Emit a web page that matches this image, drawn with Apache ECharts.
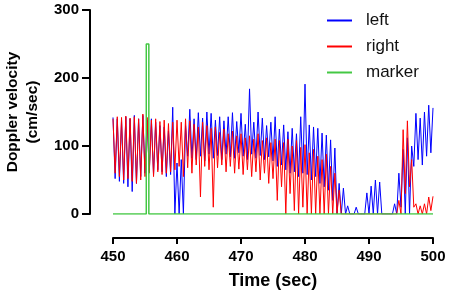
<!DOCTYPE html>
<html>
<head>
<meta charset="utf-8">
<script src="https://cdn.jsdelivr.net/npm/echarts@6/dist/echarts.min.js"></script>
<style>
  html, body { margin: 0; padding: 0; background: #fff; }
  #chart { width: 450px; height: 295px; }
</style>
</head>
<body>
<div id="chart"></div>
<script>
// sampled every 1/3 sec starting at 450 sec
const sampleStart = 450;
const sampleStep = 1 / 3;

// left (cm/sec)
const leftValues = [
  142, 52, 140, 48, 138, 45, 143, 40, 140, 33, 145, 45, 140, 55, 145, 60,
  138, 62, 140, 58, 135, 65, 130, 62, 128, 55, 122, 58, 157, 0, 75, 0,
  80, 0, 130, 85, 154, 82, 140, 80, 149, 85, 141, 78, 150, 88, 148, 82,
  138, 86, 143, 80, 137, 88, 143, 84, 149, 82, 136, 90, 148, 85, 132, 80,
  184, 88, 135, 82, 150, 86, 141, 80, 130, 84, 135, 78, 143, 70, 125, 72,
  131, 65, 121, 60, 126, 62, 118, 55, 143, 60, 191, 58, 131, 50, 128, 55,
  126, 45, 119, 40, 116, 35, 109, 20, 97, 0, 45, 0, 38, 0, 12, 0,
  0, 0, 10, 0, 0, 0, 0, 31, 0, 41, 0, 50, 0, 47, 0, 0,
  0, 0, 0, 0, 15, 0, 60, 10, 95, 0, 112, 0, 100, 70, 148, 80,
  141, 72, 150, 85, 160, 90, 156
];

// right (cm/sec)
const rightValues = [
  140, 60, 143, 55, 142, 50, 144, 52, 141, 48, 143, 45, 140, 50, 147, 55,
  142, 60, 138, 55, 140, 62, 136, 58, 138, 60, 133, 62, 135, 65, 138, 70,
  135, 55, 140, 68, 137, 60, 132, 72, 128, 25, 135, 70, 130, 65, 126, 10,
  128, 68, 120, 72, 125, 62, 118, 70, 122, 60, 115, 66, 118, 58, 112, 65,
  115, 55, 110, 62, 118, 50, 108, 60, 112, 45, 105, 52, 110, 20, 108, 40,
  105, 0, 110, 30, 100, 5, 108, 0, 98, 10, 102, 0, 90, 0, 95, 0,
  85, 0, 80, 0, 88, 0, 70, 0, 60, 0, 35, 0, 0, 0, 0, 0,
  0, 0, 0, 0, 0, 0, 0, 0, 0, 0, 0, 0, 0, 0, 0, 0,
  0, 0, 0, 0, 0, 0, 20, 0, 124, 30, 137, 40, 80, 10, 15, 0,
  12, 0, 15, 0, 25, 5, 26
];

// marker pulse
const markerTimes = [450, 455.2, 455.2, 455.6, 455.6, 500];
const markerValues = [0, 0, 250, 250, 0, 0];

const xTicks = { min: 450, max: 500, interval: 10 };
const yTicks = { min: 0, max: 300, interval: 100 };

const toPairs = vals => vals.map((v, i) => [sampleStart + i * sampleStep, v]);

const chart = echarts.init(document.getElementById('chart'));
const font = 'Arial, "Liberation Sans", sans-serif';
const axisLine = { onZero: false, lineStyle: { color: '#000', width: 2 } };

chart.setOption({
  animation: false,
  backgroundColor: '#fff',
  grid: { left: 113, right: 17, top: 10, height: 204, outerBoundsMode: 'none' },
  legend: {
    orient: 'vertical',
    left: 322,
    top: 7,
    icon: 'rect',
    itemWidth: 25,
    itemHeight: 2,
    itemGap: 9,
    textStyle: { fontFamily: font, fontSize: 17, color: '#111', lineHeight: 17, padding: [0, 0, 0, 9] },
    data: ['left', 'right', 'marker']
  },
  xAxis: {
    type: 'value',
    min: xTicks.min, max: xTicks.max, interval: xTicks.interval,
    offset: 24,
    name: 'Time (sec)',
    nameLocation: 'middle',
    nameGap: 34,
    nameTextStyle: { fontFamily: font, fontSize: 18, fontWeight: 'bold', color: '#000' },
    axisLine: axisLine,
    axisTick: { length: 6, lineStyle: { color: '#000', width: 2 } },
    axisLabel: { margin: 11, fontFamily: font, fontSize: 15, fontWeight: 'bold', color: '#000' },
    splitLine: { show: false }
  },
  yAxis: {
    type: 'value',
    min: yTicks.min, max: yTicks.max, interval: yTicks.interval,
    offset: 23,
    name: 'Doppler velocity\n(cm/sec)',
    nameLocation: 'middle',
    nameRotate: 90,
    nameGap: 37,
    nameTextStyle: { fontFamily: font, fontSize: 15.5, fontWeight: 'bold', color: '#000', lineHeight: 20 },
    axisLine: axisLine,
    axisTick: { length: 8, lineStyle: { color: '#000', width: 2 } },
    axisLabel: { margin: 11, fontFamily: font, fontSize: 15, fontWeight: 'bold', color: '#000' },
    splitLine: { show: false }
  },
  series: [
    {
      name: 'left', type: 'line', showSymbol: false, symbol: 'none',
      color: '#0000ff', lineStyle: { width: 1 },
      data: toPairs(leftValues)
    },
    {
      name: 'right', type: 'line', showSymbol: false, symbol: 'none',
      color: '#ff0000', lineStyle: { width: 1 },
      data: toPairs(rightValues)
    },
    {
      name: 'marker', type: 'line', showSymbol: false, symbol: 'none',
      color: '#44c844', lineStyle: { width: 1.5 },
      data: markerTimes.map((t, i) => [t, markerValues[i]])
    }
  ]
});
</script>
</body>
</html>
